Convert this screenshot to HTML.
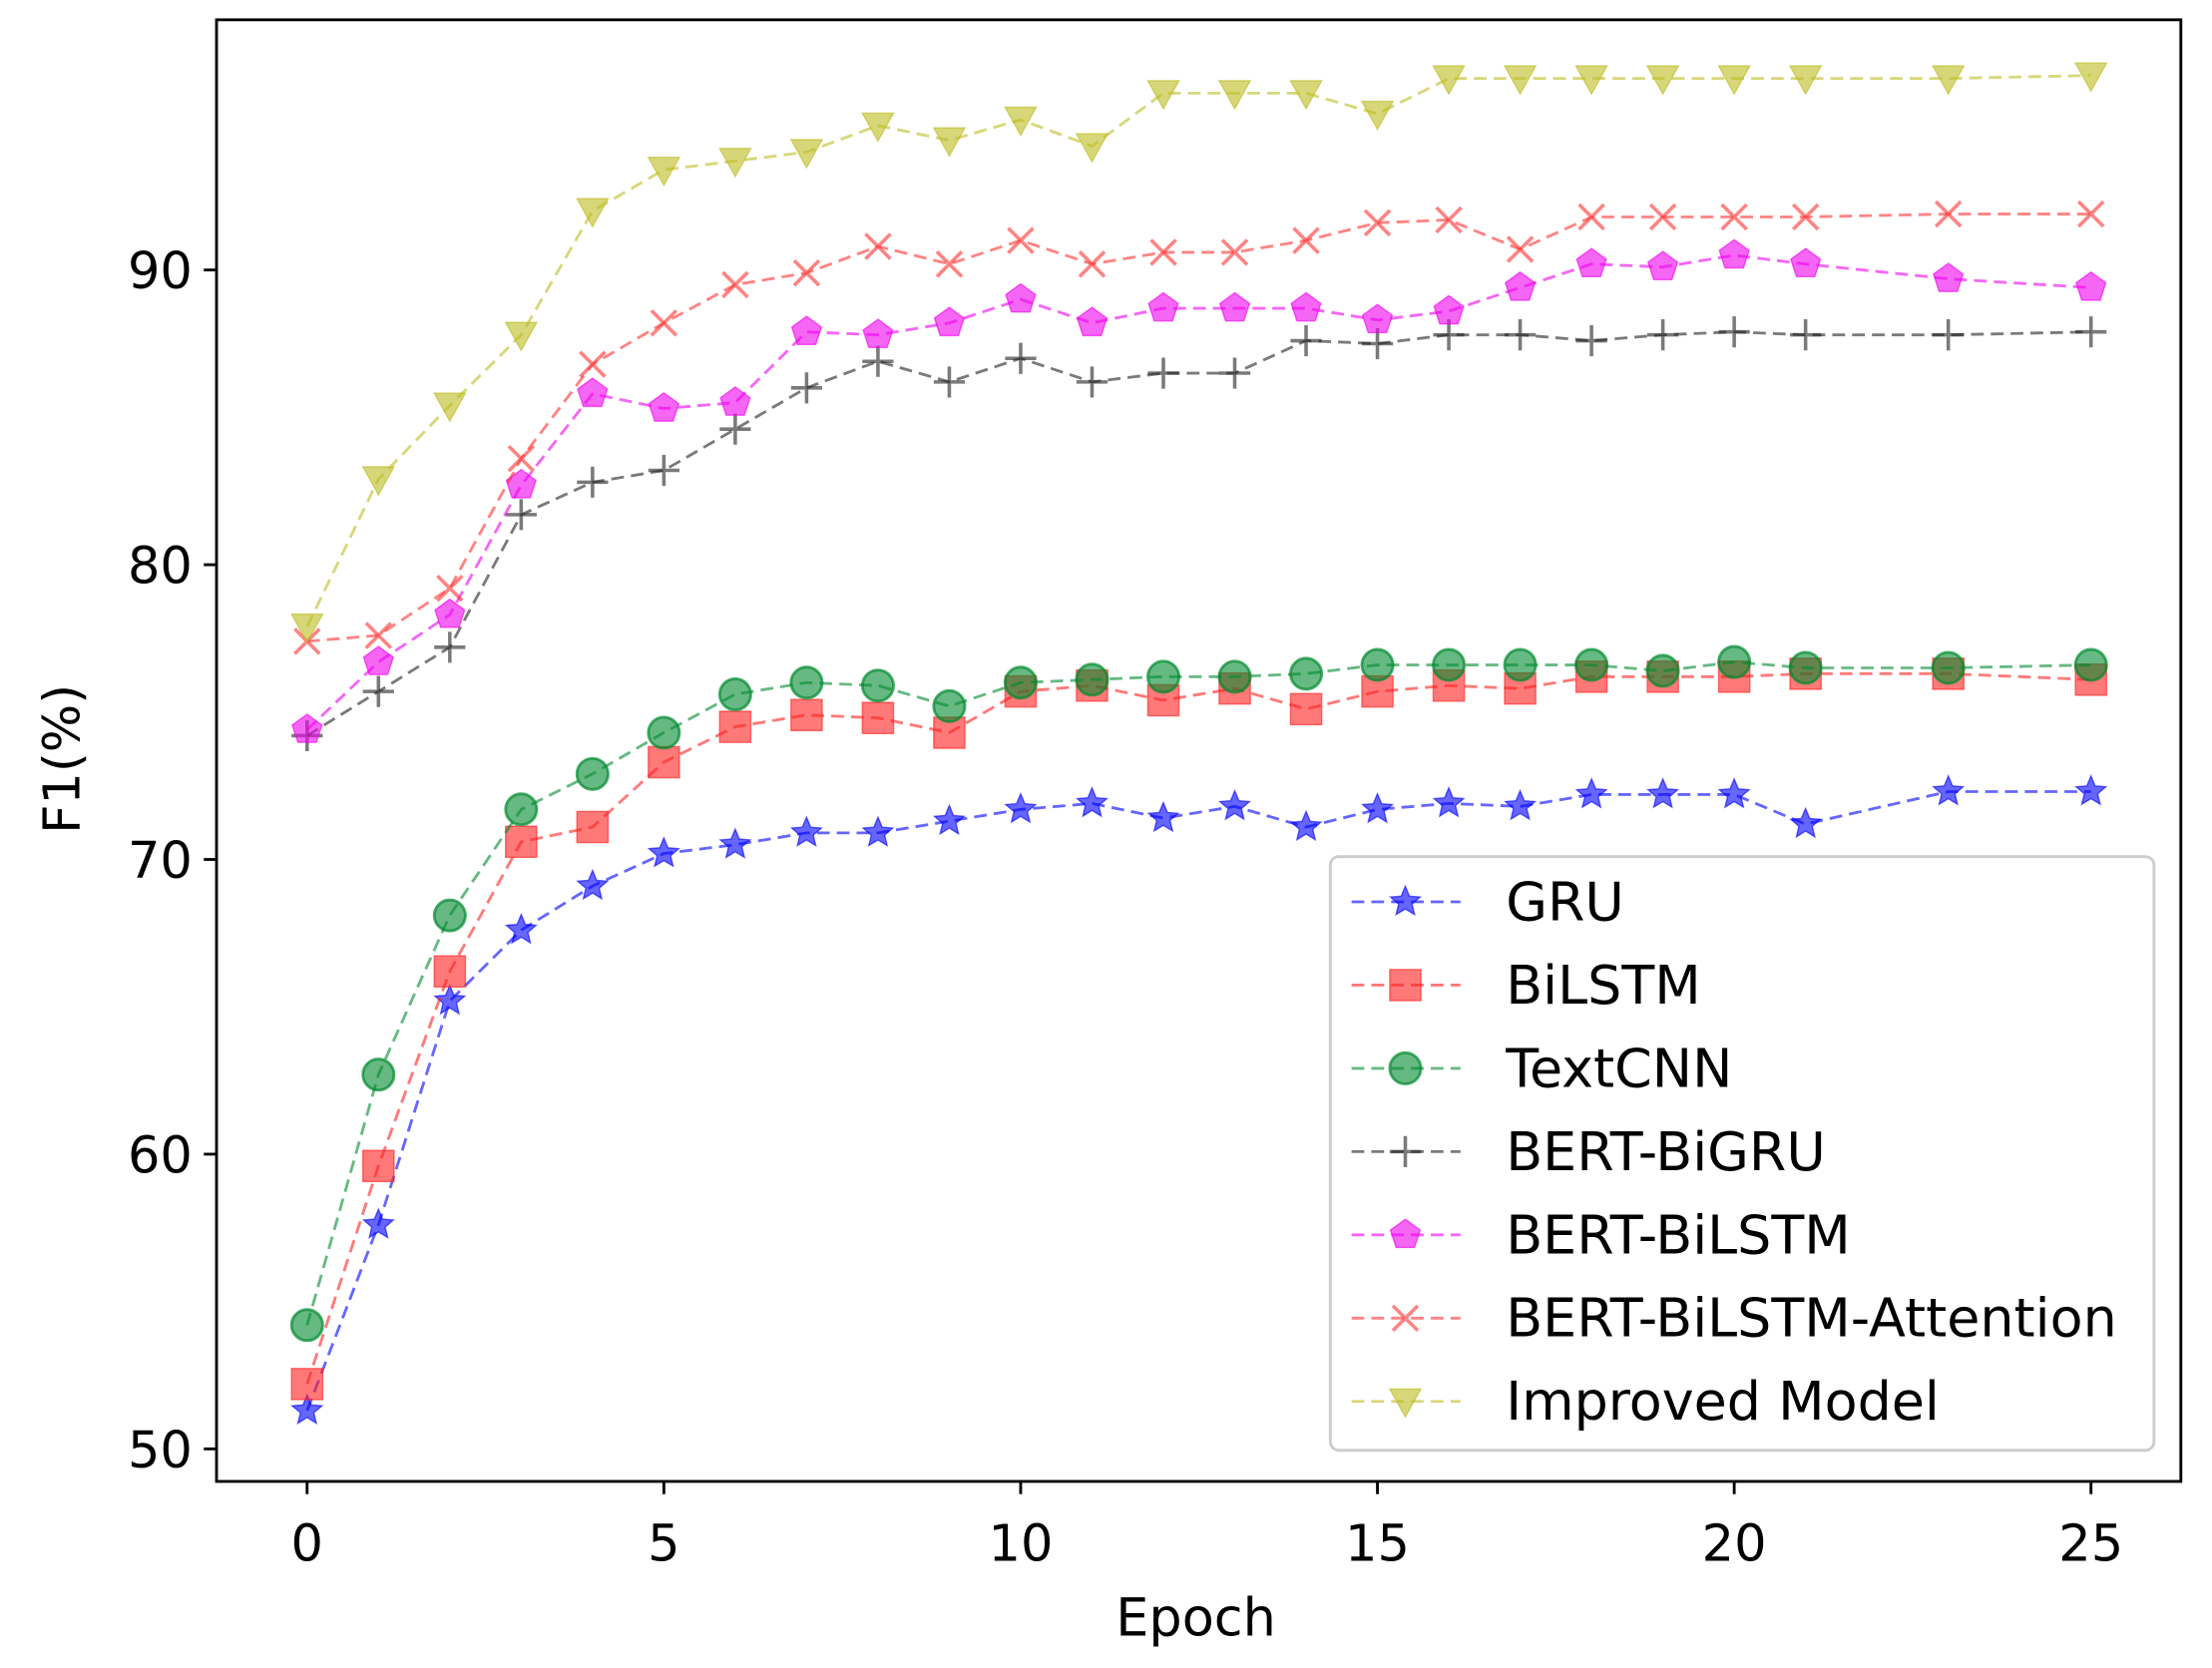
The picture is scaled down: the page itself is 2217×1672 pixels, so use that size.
<!DOCTYPE html>
<html><head><meta charset="utf-8"><style>html,body{margin:0;padding:0;background:#fff}svg{display:block}</style></head>
<body>
<svg id="s" width="2217" height="1672" viewBox="0 0 1563 1180" preserveAspectRatio="none" xmlns="http://www.w3.org/2000/svg" font-family="'DejaVu Sans','Liberation Sans',sans-serif">
<rect x="0" y="0" width="1563" height="1180" fill="#fff"/>
<g id="plot"></g>
<rect x="153" y="14" width="1388" height="1034" fill="none" stroke="#000" stroke-width="2"/>
<g id="ticks" font-size="36" fill="#000"></g>
<text x="845" y="1157" font-size="37" text-anchor="middle">Epoch</text>
<text transform="translate(56,537) rotate(-90)" font-size="36" text-anchor="middle">F1(%)</text>
<rect x="940" y="606" width="582" height="420" rx="6" fill="#fff" fill-opacity="0.85" stroke="#ccc" stroke-width="2"/>
<g id="leg" font-size="38"></g>
</svg>
<script>
var X=function(e){return 217+e*50.42},Y=function(v){return 1025-(v-50)*20.85};
var ep=[0,1,2,3,4,5,6,7,8,9,10,11,12,13,14,15,16,17,18,19,20,21,23,25];
var S=[
["GRU","#0000ff","star",[51.3,57.6,65.2,67.6,69.1,70.2,70.5,70.9,70.9,71.3,71.7,71.9,71.4,71.8,71.1,71.7,71.9,71.8,72.2,72.2,72.2,71.2,72.3,72.3]],
["BiLSTM","#ff2020","sq",[52.2,59.6,66.2,70.6,71.1,73.3,74.5,74.9,74.8,74.3,75.7,75.9,75.4,75.8,75.1,75.7,75.9,75.8,76.2,76.2,76.2,76.3,76.3,76.1]],
["TextCNN","#008a2e","circ",[54.2,62.7,68.1,71.7,72.9,74.3,75.6,76.0,75.9,75.2,76.0,76.1,76.2,76.2,76.3,76.6,76.6,76.6,76.6,76.4,76.7,76.5,76.5,76.6]],
["BERT-BiGRU","#222","plus",[74.2,75.7,77.2,81.7,82.8,83.2,84.6,86.0,86.9,86.2,87.0,86.2,86.5,86.5,87.6,87.5,87.8,87.8,87.6,87.8,87.9,87.8,87.8,87.9]],
["BERT-BiLSTM","#ee00ee","pent",[74.4,76.7,78.3,82.7,85.8,85.3,85.5,87.9,87.8,88.2,89.0,88.2,88.7,88.7,88.7,88.3,88.6,89.4,90.2,90.1,90.5,90.2,89.7,89.4]],
["BERT-BiLSTM-Attention","#ff3030","x",[77.4,77.6,79.2,83.6,86.8,88.2,89.5,89.9,90.8,90.2,91.0,90.2,90.6,90.6,91.0,91.6,91.7,90.7,91.8,91.8,91.8,91.8,91.9,91.9]],
["Improved Model","#bcbd22","tri",[77.9,82.9,85.4,87.8,92.0,93.4,93.7,94.0,94.9,94.4,95.1,94.2,96.0,96.0,96.0,95.3,96.5,96.5,96.5,96.5,96.5,96.5,96.5,96.6]]];
function mk(t,x,y,c){var r=11;
if(t=="star"){var p=[];for(var i=0;i<10;i++){var a=-Math.PI/2+i*Math.PI/5,rr=i%2?r*0.45:r;p.push((x+rr*Math.cos(a)).toFixed(1)+","+(y+rr*Math.sin(a)).toFixed(1));}return '<polygon points="'+p.join(" ")+'" fill="'+c+'" fill-opacity="0.6" stroke="'+c+'" stroke-opacity="0.6"/>';}
if(t=="sq")return '<rect x="'+(x-r)+'" y="'+(y-r)+'" width="'+2*r+'" height="'+2*r+'" fill="'+c+'" fill-opacity="0.6" stroke="'+c+'" stroke-opacity="0.6"/>';
if(t=="circ")return '<circle cx="'+x+'" cy="'+y+'" r="'+r+'" fill="'+c+'" fill-opacity="0.6" stroke="'+c+'" stroke-opacity="0.7" stroke-width="2"/>';
if(t=="plus")return '<path d="M'+(x-r)+' '+y+'H'+(x+r)+'M'+x+' '+(y-r)+'V'+(y+r)+'" stroke="'+c+'" stroke-opacity="0.6" stroke-width="2.5"/>';
if(t=="x"){var d=r*0.8;return '<path d="M'+(x-d)+' '+(y-d)+'L'+(x+d)+' '+(y+d)+'M'+(x-d)+' '+(y+d)+'L'+(x+d)+' '+(y-d)+'" stroke="'+c+'" stroke-opacity="0.6" stroke-width="2.5"/>';}
if(t=="pent"){var p=[];for(var i=0;i<5;i++){var a=-Math.PI/2+i*2*Math.PI/5;p.push((x+r*Math.cos(a)).toFixed(1)+","+(y+r*Math.sin(a)).toFixed(1));}return '<polygon points="'+p.join(" ")+'" fill="'+c+'" fill-opacity="0.6" stroke="'+c+'" stroke-opacity="0.6"/>';}
if(t=="tri")return '<polygon points="'+(x-r)+','+(y-r*0.8)+' '+(x+r)+','+(y-r*0.8)+' '+x+','+(y+r)+'" fill="'+c+'" fill-opacity="0.6" stroke="'+c+'" stroke-opacity="0.6"/>';}
var h="";S.forEach(function(s){var pts=ep.map(function(e,i){return X(e).toFixed(1)+","+Y(s[3][i]).toFixed(1)});
h+='<polyline points="'+pts.join(" ")+'" fill="none" stroke="'+s[1]+'" stroke-opacity="0.6" stroke-width="2" stroke-dasharray="9,5"/>';
ep.forEach(function(e,i){h+=mk(s[2],X(e),Y(s[3][i]),s[1]);});});
document.getElementById("plot").innerHTML=h;
var t="";[0,5,10,15,20,25].forEach(function(e){var x=X(e);t+='<line x1="'+x+'" y1="1048" x2="'+x+'" y2="1057" stroke="#000" stroke-width="2"/><text x="'+x+'" y="1104" text-anchor="middle">'+e+'</text>';});
[50,60,70,80,90].forEach(function(v){var y=Y(v);t+='<line x1="144" y1="'+y+'" x2="153" y2="'+y+'" stroke="#000" stroke-width="2"/><text x="136" y="'+(y+13)+'" text-anchor="end">'+v+'</text>';});
document.getElementById("ticks").innerHTML=t;
var l="";S.forEach(function(s,i){var y=638+i*58.9;l+='<line x1="955" y1="'+y+'" x2="1032" y2="'+y+'" stroke="'+s[1]+'" stroke-opacity="0.6" stroke-width="2" stroke-dasharray="9,5"/>'+mk(s[2],993,y,s[1])+'<text x="1064" y="'+(y+13)+'">'+s[0]+'</text>';});
document.getElementById("leg").innerHTML=l;
</script>
</body></html>
